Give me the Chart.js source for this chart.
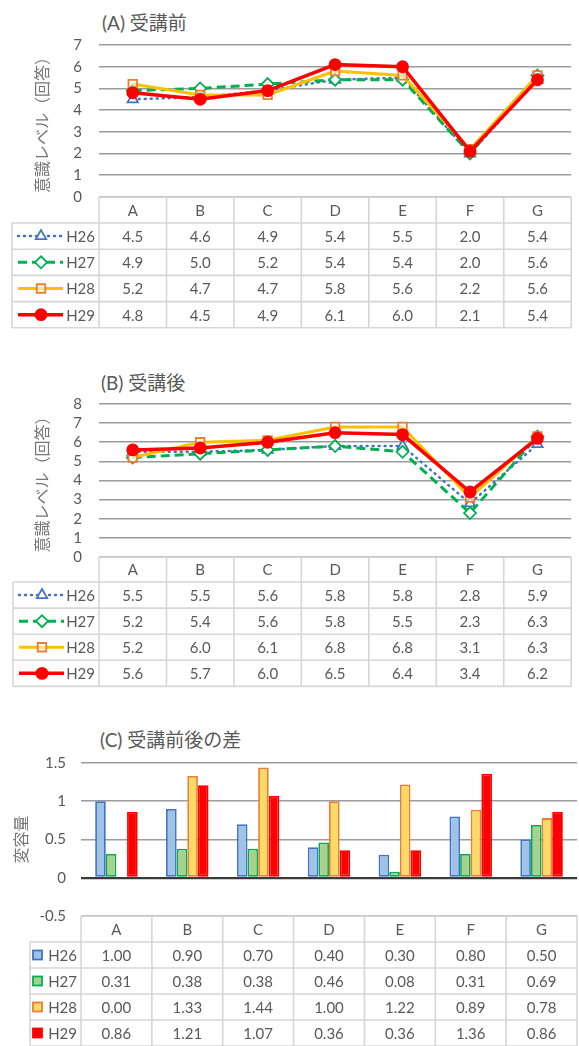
<!DOCTYPE html>
<html>
<head>
<meta charset="utf-8">
<script src="https://cdn.jsdelivr.net/npm/chart.js@4/dist/chart.umd.min.js"></script>
<style>
  html, body { margin: 0; padding: 0; background: #ffffff; }
  body { width: 579px; height: 1046px; position: relative; overflow: hidden;
         font-family: Lato, 'Noto Sans CJK JP', sans-serif; color: #595959; }
  .panel { position: absolute; left: 0; width: 579px; }
  .panel canvas { position: absolute; left: 0; top: 0; }
  .txt { position: absolute; white-space: nowrap; }
  .ttl { position: absolute; white-space: nowrap; font-size: 19px; line-height: 24px;
         font-family: Lato, 'Noto Sans CJK JP', sans-serif; color: #595959; }
</style>
</head>
<body>
<div class="ttl" id="titleA" style="left:102px; top:11px;">(A) 受講前</div>
<div class="ttl" id="titleB" style="left:101px; top:371px;">(B) 受講後</div>
<div class="ttl" id="titleC" style="left:100px; top:728px;">(C) 受講前後の差</div>

<div class="panel" id="panelA" style="top:0px; height:332px;"><canvas id="chartA" width="579" height="332"></canvas></div>
<div class="panel" id="panelB" style="top:350px; height:340px;"><canvas id="chartB" width="579" height="340"></canvas></div>
<div class="panel" id="panelC" style="top:700px; height:346px;"><canvas id="chartC" width="579" height="346"></canvas></div>

<script>
// ---------------- DATA ----------------
const categories = ['A', 'B', 'C', 'D', 'E', 'F', 'G'];
const seriesNames = ['H26', 'H27', 'H28', 'H29'];

// (A) 受講前
const beforeH26 = [4.5, 4.6, 4.9, 5.4, 5.5, 2.0, 5.4];
const beforeH27 = [4.9, 5.0, 5.2, 5.4, 5.4, 2.0, 5.6];
const beforeH28 = [5.2, 4.7, 4.7, 5.8, 5.6, 2.2, 5.6];
const beforeH29 = [4.8, 4.5, 4.9, 6.1, 6.0, 2.1, 5.4];

// (B) 受講後
const afterH26 = [5.5, 5.5, 5.6, 5.8, 5.8, 2.8, 5.9];
const afterH27 = [5.2, 5.4, 5.6, 5.8, 5.5, 2.3, 6.3];
const afterH28 = [5.2, 6.0, 6.1, 6.8, 6.8, 3.1, 6.3];
const afterH29 = [5.6, 5.7, 6.0, 6.5, 6.4, 3.4, 6.2];

// (C) 受講前後の差
const diffH26 = [1.00, 0.90, 0.70, 0.40, 0.30, 0.80, 0.50];
const diffH27 = [0.31, 0.38, 0.38, 0.46, 0.08, 0.31, 0.69];
const diffH28 = [0.00, 1.33, 1.44, 1.00, 1.22, 0.89, 0.78];
const diffH29 = [0.86, 1.21, 1.07, 0.36, 0.36, 1.36, 0.86];

// axis ranges / tick steps
const axisA = [0, 7, 1];
const axisB = [0, 8, 1];
const axisC = [-0.5, 1.5, 0.5];

const titleLevel = '意識レベル（回答）';
const titleDiff = '変容量';

// ---------------- STYLES ----------------
const lineStyles = [
  { color: '#4472C4', width: 2.5, dash: [1, 5], cap: 'round', point: 'triangle', radius: 6, pointFill: '#FFFFFF', pointBorder: '#4472C4' },
  { color: '#00B050', width: 3, dash: [9, 5], cap: 'butt', point: 'rectRot', radius: 6, pointFill: '#FFFFFF', pointBorder: '#00B050' },
  { color: '#FFC000', width: 3, dash: [], cap: 'butt', point: 'rect', radius: 6, pointFill: 'rgba(255,255,255,0.55)', pointBorder: '#ED7D31' },
  { color: '#FF0000', width: 3.5, dash: [], cap: 'butt', point: 'circle', radius: 5.5, pointFill: '#FF0000', pointBorder: '#FF0000' }
];
const barStyles = [
  { fill: '#9DC3E6', border: '#4472C4' },
  { fill: '#A9D18E', border: '#00B050' },
  { fill: '#FFD966', border: '#ED7D31' },
  { fill: '#FF0000', border: '#FF0000' }
];
const TXT = '#595959';
const GRID = '#9C9C9C';
const TABLE_LINE = '#D6D6D6';
const FONT = "Lato, 'Noto Sans CJK JP', sans-serif";
const CJK = "'Noto Sans CJK JP', sans-serif";

Chart.defaults.font.family = FONT;
Chart.defaults.color = TXT;

// ---------------- TABLE (geometry from chart scales) ----------------
function tableGeom(chart, o) {
  const xs = chart.scales.x, ca = chart.chartArea;
  const centers = categories.map((c, i) => xs.getPixelForValue(i));
  const half = (centers[1] - centers[0]) / 2;
  const bounds = centers.map(c => c - half);
  bounds.push(centers[centers.length - 1] + half);
  const rows = [ca.bottom, ca.bottom + o.headerH];
  for (let i = 0; i < seriesNames.length; i++) rows.push(rows[rows.length - 1] + o.rowH);
  return { centers, bounds, rows, labelLeft: o.labelLeft };
}

function drawMarker(ctx, style, x, y) {
  ctx.save();
  ctx.setLineDash([]);
  ctx.fillStyle = style.pointFill;
  ctx.strokeStyle = style.pointBorder;
  ctx.lineWidth = 1.8;
  if (Chart.helpers && Chart.helpers.drawPoint) {
    Chart.helpers.drawPoint(ctx, { pointStyle: style.point, radius: style.radius, borderWidth: 1.8, rotation: 0 }, x, y);
  } else {
    ctx.beginPath(); ctx.arc(x, y, style.radius, 0, Math.PI * 2); ctx.fill(); ctx.stroke();
  }
  ctx.restore();
}

const dataTablePlugin = {
  id: 'dataTable',
  afterDraw(chart, args, o) {
    const g = tableGeom(chart, o);
    const ctx = chart.ctx;
    const right = g.bounds[g.bounds.length - 1];
    ctx.save();
    ctx.strokeStyle = TABLE_LINE;
    ctx.lineWidth = 1.6;
    ctx.setLineDash([]);
    ctx.beginPath();
    ctx.moveTo(g.bounds[0], g.rows[0]); ctx.lineTo(right, g.rows[0]);
    for (let r = 1; r < g.rows.length; r++) { ctx.moveTo(g.labelLeft, g.rows[r]); ctx.lineTo(right, g.rows[r]); }
    ctx.moveTo(g.labelLeft, g.rows[1]); ctx.lineTo(g.labelLeft, g.rows[g.rows.length - 1]);
    g.bounds.forEach(b => { ctx.moveTo(b, g.rows[0]); ctx.lineTo(b, g.rows[g.rows.length - 1]); });
    ctx.stroke();
    // legend keys
    for (let s = 0; s < seriesNames.length; s++) {
      const cy = (g.rows[s + 1] + g.rows[s + 2]) / 2;
      if (o.kind === 'line') {
        const st = lineStyles[s];
        ctx.save();
        ctx.strokeStyle = st.color; ctx.lineWidth = st.width; ctx.lineCap = st.cap;
        ctx.setLineDash(st.dash);
        ctx.beginPath(); ctx.moveTo(g.labelLeft + 6, cy); ctx.lineTo(g.labelLeft + 51, cy); ctx.stroke();
        ctx.restore();
        drawMarker(ctx, st, g.labelLeft + 29, cy);
      } else {
        const st = barStyles[s];
        ctx.save();
        ctx.fillStyle = st.fill; ctx.strokeStyle = st.border; ctx.lineWidth = 1.8;
        ctx.fillRect(g.labelLeft + 3, cy - 4.5, 9, 9);
        ctx.strokeRect(g.labelLeft + 3, cy - 4.5, 9, 9);
        ctx.restore();
      }
    }
    ctx.restore();
  }
};

function addText(parent, text, left, top, width, height, align) {
  const d = document.createElement('div');
  d.className = 'txt';
  d.textContent = text;
  d.style.left = left + 'px'; d.style.top = top + 'px';
  d.style.width = width + 'px'; d.style.height = height + 'px';
  d.style.lineHeight = height + 'px'; d.style.textAlign = align;
  d.style.fontSize = '15px'; d.style.color = TXT;
  parent.appendChild(d);
}

function buildTableText(chart, panelId, o, seriesData, digits) {
  const parent = document.getElementById(panelId);
  const g = tableGeom(chart, o);
  categories.forEach((c, i) => {
    addText(parent, c, g.bounds[i], g.rows[0], g.bounds[i + 1] - g.bounds[i], g.rows[1] - g.rows[0], 'center');
  });
  seriesNames.forEach((name, s) => {
    const top = g.rows[s + 1], h = g.rows[s + 2] - g.rows[s + 1];
    addText(parent, name, g.labelLeft, top, g.bounds[0] - g.labelLeft - 4, h, 'right');
    seriesData[s].forEach((v, i) => {
      addText(parent, v.toFixed(digits), g.bounds[i], top, g.bounds[i + 1] - g.bounds[i], h, 'center');
    });
  });
}

// ---------------- CHART FACTORIES ----------------
function yAxis(range, titleText, axisWidth, tickPad, gridColorFn, gridWidthFn) {
  return {
    min: range[0], max: range[1],
    ticks: {
      stepSize: range[2], padding: tickPad, color: TXT, autoSkip: false,
      font: { size: 15, family: FONT },
      callback: v => String(Number(Number(v).toFixed(2)))
    },
    grid: { color: gridColorFn || GRID, lineWidth: gridWidthFn || 1.6, drawTicks: false },
    border: { display: false },
    title: { display: true, text: titleText, color: '#767676', padding: 0, font: { size: 16, family: CJK } },
    afterFit(scale) { scale.width = axisWidth; }
  };
}

function makeLineChart(canvasId, panelId, seriesData, range, pad, tableOpts) {
  const datasets = seriesNames.map((name, s) => {
    const st = lineStyles[s];
    return {
      label: name, data: seriesData[s],
      borderColor: st.color, borderWidth: st.width, borderDash: st.dash, borderCapStyle: st.cap,
      pointStyle: st.point, pointRadius: st.radius, pointBackgroundColor: st.pointFill,
      pointBorderColor: st.pointBorder, pointBorderWidth: 1.8, fill: false, tension: 0,
      order: seriesNames.length - s
    };
  });
  const chart = new Chart(document.getElementById(canvasId), {
    type: 'line',
    data: { labels: categories, datasets },
    options: {
      responsive: false, animation: false, devicePixelRatio: 1,
      layout: { padding: { left: 32, right: 2, top: pad.top, bottom: pad.bottom } },
      plugins: { legend: { display: false }, tooltip: { enabled: false }, dataTable: tableOpts },
      scales: {
        x: { type: 'category', offset: true, display: false },
        y: yAxis(range, titleLevel, 67, 17)
      }
    },
    plugins: [dataTablePlugin]
  });
  buildTableText(chart, panelId, tableOpts, seriesData, 1);
  return chart;
}

function makeBarChart(canvasId, panelId, seriesData, range, pad, tableOpts) {
  const datasets = seriesNames.map((name, s) => ({
    label: name, data: seriesData[s],
    backgroundColor: barStyles[s].fill, borderColor: barStyles[s].border,
    borderWidth: 1.8, borderSkipped: false,
    categoryPercentage: 0.6, barPercentage: 1.0
  }));
  const chart = new Chart(document.getElementById(canvasId), {
    type: 'bar',
    data: { labels: categories, datasets },
    options: {
      responsive: false, animation: false, devicePixelRatio: 1,
      layout: { padding: { left: 11, right: 2, top: pad.top, bottom: pad.bottom } },
      plugins: { legend: { display: false }, tooltip: { enabled: false }, dataTable: tableOpts },
      scales: {
        x: { type: 'category', offset: true, display: false },
        y: yAxis(range, titleDiff, 70, 15,
                 ctx => (ctx.tick && ctx.tick.value === 0) ? '#3A3A3A' : GRID,
                 ctx => (ctx.tick && ctx.tick.value === 0) ? 2.2 : 1.6)
      }
    },
    plugins: [dataTablePlugin]
  });
  buildTableText(chart, panelId, tableOpts, seriesData, 2);
  return chart;
}

makeLineChart('chartA', 'panelA', [beforeH26, beforeH27, beforeH28, beforeH29], axisA,
  { top: 45, bottom: 135 }, { kind: 'line', labelLeft: 12, headerH: 26, rowH: 26.2 });
makeLineChart('chartB', 'panelB', [afterH26, afterH27, afterH28, afterH29], axisB,
  { top: 54, bottom: 133 }, { kind: 'line', labelLeft: 13, headerH: 25, rowH: 26.1 });
makeBarChart('chartC', 'panelC', [diffH26, diffH27, diffH28, diffH29], axisC,
  { top: 63, bottom: 130 }, { kind: 'bar', labelLeft: 30, headerH: 26, rowH: 26 });
</script>
</body>
</html>
